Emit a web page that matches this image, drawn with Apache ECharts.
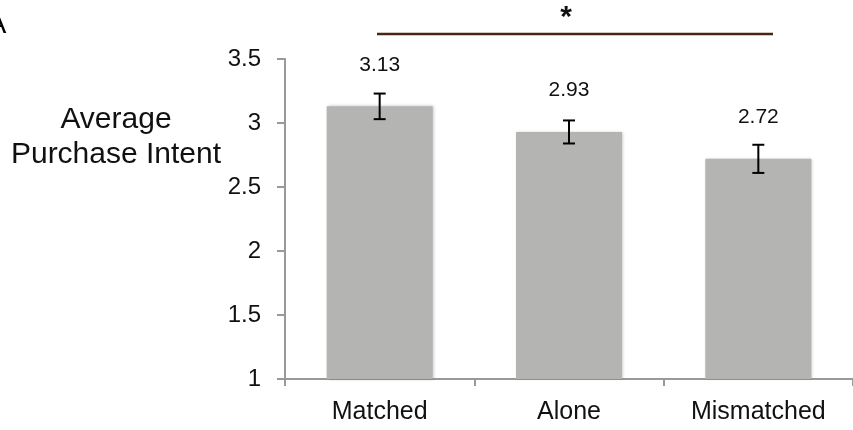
<!DOCTYPE html>
<html>
<head>
<meta charset="utf-8">
<script src="https://cdn.jsdelivr.net/npm/echarts@6/dist/echarts.min.js"></script>
<style>html,body{margin:0;padding:0;background:#fff}#c{width:853px;height:430px}</style>
</head>
<body>
<div id="c"></div>
<script>
var categories = ['Matched', 'Alone', 'Mismatched'];
var means = [3.13, 2.93, 2.72];
var errors = [0.10, 0.09, 0.11];
var yTicks = { min: 1, max: 3.5, interval: 0.5 };

var FONT = '"Liberation Sans", Arial, sans-serif';
var chart = echarts.init(document.getElementById('c'));
chart.setOption({
  animation: false,
  backgroundColor: '#fff',
  grid: { left: 285, top: 59, height: 320, width: 577.5 },
  xAxis: {
    type: 'category',
    data: categories,
    axisLine: { lineStyle: { color: '#999', width: 2 } },
    axisTick: { show: true, length: 7, lineStyle: { color: '#999', width: 2 } },
    axisLabel: { color: '#111', fontSize: 25, fontFamily: FONT, margin: 21 }
  },
  yAxis: {
    type: 'value',
    min: yTicks.min, max: yTicks.max, interval: yTicks.interval,
    splitLine: { show: false },
    axisLine: { show: true, lineStyle: { color: '#999', width: 2 } },
    axisTick: { show: true, length: 8, lineStyle: { color: '#999', width: 2 } },
    axisLabel: { color: '#111', fontSize: 24, fontFamily: FONT, margin: 24 }
  },
  series: [
    {
      type: 'bar',
      data: means,
      barWidth: '56%',
      itemStyle: { color: '#b4b5b3', shadowColor: 'rgba(0,0,0,0.25)', shadowBlur: 3, shadowOffsetX: 1 },
      label: {
        show: true, position: 'top', distance: 31,
        color: '#111', fontSize: 21, fontFamily: FONT,
        formatter: function (p) { return p.value.toFixed(2); }
      },
      z: 2
    },
    {
      type: 'custom',
      data: means.map(function (m, i) { return [i, m - errors[i], m + errors[i]]; }),
      renderItem: function (params, api) {
        var lo = api.coord([api.value(0), api.value(1)]);
        var hi = api.coord([api.value(0), api.value(2)]);
        var hw = 6;
        var st = { stroke: '#000', lineWidth: 2 };
        return {
          type: 'group',
          children: [
            { type: 'line', shape: { x1: lo[0], y1: lo[1], x2: hi[0], y2: hi[1] }, style: st },
            { type: 'line', shape: { x1: lo[0] - hw, y1: lo[1], x2: lo[0] + hw, y2: lo[1] }, style: st },
            { type: 'line', shape: { x1: hi[0] - hw, y1: hi[1], x2: hi[0] + hw, y2: hi[1] }, style: st }
          ]
        };
      },
      z: 5
    }
  ],
  graphic: [
    { type: 'text', x: -13, y: 10, style: { text: 'A', fontSize: 29, fontFamily: FONT, fill: '#000' } },
    { type: 'text', x: 116, y: 120, style: { text: 'Average', fontSize: 30, fontFamily: FONT, fill: '#111', textAlign: 'center', textVerticalAlign: 'middle' } },
    { type: 'text', x: 116, y: 155, style: { text: 'Purchase Intent', fontSize: 30, fontFamily: FONT, fill: '#111', textAlign: 'center', textVerticalAlign: 'middle' } },
    { type: 'line', shape: { x1: 377, y1: 34, x2: 773, y2: 34 }, style: { stroke: '#4a2511', lineWidth: 2.5 } },
    { type: 'text', x: 566, y: 18, style: { text: '*', fontSize: 30, fontWeight: 'bold', fontFamily: FONT, fill: '#111', textAlign: 'center', textVerticalAlign: 'middle' } }
  ]
});
</script>
</body>
</html>
